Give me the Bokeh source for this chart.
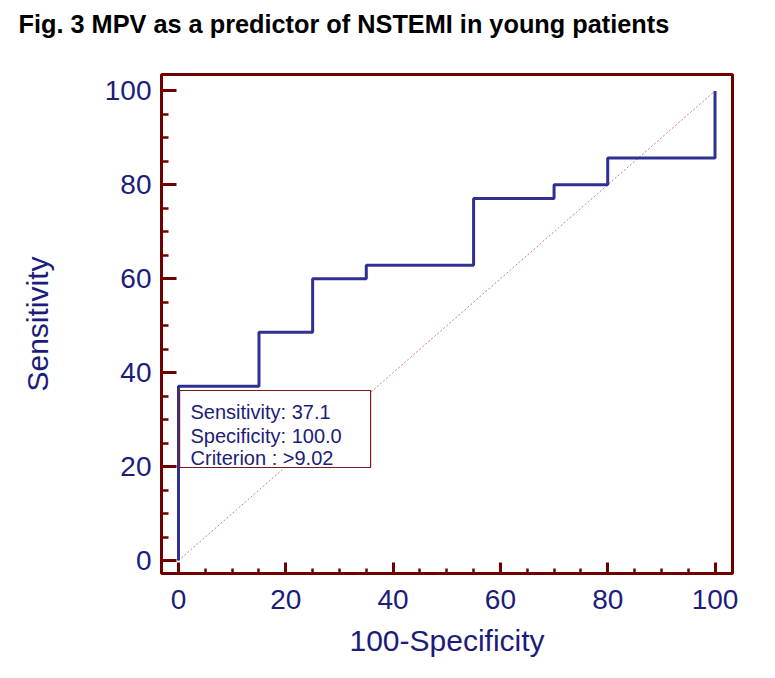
from bokeh.plotting import figure
from bokeh.models import Range1d, BoxAnnotation, FixedTicker, Title
from bokeh.core.properties import value
from bokeh.embed import file_html
from bokeh.resources import INLINE

# ROC curve data (100-Specificity, Sensitivity)
fpr = [0, 0, 15, 15, 25, 25, 35, 35, 55, 55, 70, 70, 80, 80, 100, 100]
sens = [0, 37.1, 37.1, 48.6, 48.6, 60, 60, 62.9, 62.9, 77.1, 77.1, 80, 80, 85.7, 85.7, 100]
diag_x = [0, 100]
diag_y = [0, 100]
major_ticks = [0, 20, 40, 60, 80, 100]
minor_ticks = [5, 10, 15, 25, 30, 35, 45, 50, 55, 65, 70, 75, 85, 90, 95]
box_lines = ["Sensitivity: 37.1", "Specificity: 100.0", "Criterion : >9.02"]
title_text = "Fig. 3 MPV as a predictor of NSTEMI  in young patients"

DARKRED = "#6e0000"
NAVY = "#1c1c7a"
CURVE = "#2e3192"
FONT = "Liberation Sans"

p = figure(width=759, height=662, output_backend="svg", toolbar_location=None,
           title=None,
           x_range=Range1d(-3.17, 103.26), y_range=Range1d(-2.77, 103.5),
           min_border_left=161, min_border_right=27, min_border_top=74, min_border_bottom=89)

# spacer (closest to frame) then the main title
p.add_layout(Title(text=" ", text_font_size="27px", standoff=0), "above")
p.add_layout(Title(text=title_text, text_font=FONT, text_font_style="bold",
                   text_font_size="25.3px", text_color="black", align="left",
                   offset=-143, standoff=10), "above")

p.xgrid.visible = False
p.ygrid.visible = False
p.outline_line_color = DARKRED
p.outline_line_width = 3
p.outline_line_alpha = 1.0
p.background_fill_color = "white"
p.border_fill_color = "white"

for ax in (p.xaxis[0], p.yaxis[0]):
    ax.ticker = FixedTicker(ticks=major_ticks, minor_ticks=minor_ticks)
    ax.axis_line_color = DARKRED
    ax.axis_line_width = 3
    ax.major_tick_line_color = DARKRED
    ax.major_tick_line_width = 3
    ax.minor_tick_line_color = DARKRED
    ax.minor_tick_line_width = 2.5
    ax.major_tick_out = 0
    ax.minor_tick_out = 0
    ax.major_label_text_font = FONT
    ax.major_label_text_font_size = "28px"
    ax.major_label_text_color = NAVY
    ax.axis_label_text_font = FONT
    ax.axis_label_text_font_size = "30px"
    ax.axis_label_text_font_style = "normal"
    ax.axis_label_text_color = NAVY

p.xaxis.major_tick_in = 11
p.xaxis.minor_tick_in = 5
p.yaxis.major_tick_in = 15
p.yaxis.minor_tick_in = 7
p.xaxis.major_label_standoff = 16
p.yaxis.major_label_standoff = 10
p.xaxis.axis_label = "100-Specificity"
p.yaxis.axis_label = "Sensitivity"
p.xaxis.axis_label_standoff = 12
p.yaxis.axis_label_standoff = 48

# diagonal reference line
p.line(diag_x, diag_y, line_color="#c08080", line_width=1, line_dash="2 2")
# ROC step curve
p.line(fpr, sens, line_color=CURVE, line_width=3)

# annotation box
box = BoxAnnotation(left=0.2, right=35.8, bottom=19.8, top=36.2,
                    fill_color="white", fill_alpha=1.0,
                    line_color="#7a1a1a", line_alpha=1.0, line_width=1.2)
p.add_layout(box)
p.text(x=[2.24, 2.24, 2.24], y=[31.7, 26.6, 21.9], text=box_lines,
       text_font=value(FONT), text_font_size="20px", text_color=NAVY,
       text_baseline="alphabetic", text_align="left", level="overlay")

open("out.html", "w").write(file_html(p, INLINE))
